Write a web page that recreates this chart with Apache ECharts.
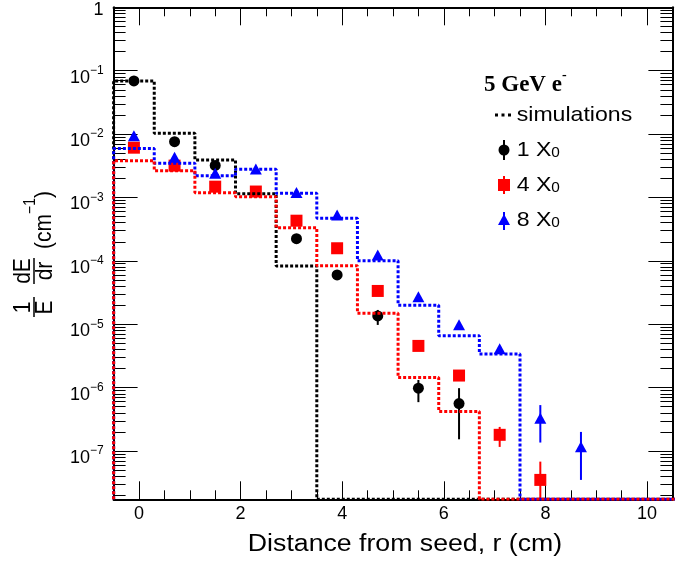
<!DOCTYPE html>
<html><head><meta charset="utf-8">
<script src="https://cdn.jsdelivr.net/npm/echarts@6/dist/echarts.min.js"></script>
<style>html,body{margin:0;padding:0;background:#fff}#c{width:678px;height:563px}</style>
</head><body><div id="c"></div>
<script>
// ---------------- data ----------------
const binEdges = [-0.5, 0.3, 1.1, 1.9, 2.7, 3.5, 4.3, 5.1, 5.9, 6.7, 7.5, 8.3, 9.1, 9.9, 10.7];
const simBlack = [0.069, 0.0103, 0.0039, 0.00114, 8.3e-5, 0, 0, 0, 0, 0, 0, 0, 0, 0];
const simRed   = [0.0038, 0.00265, 0.00119, 0.00103, 3.34e-4, 8.4e-5, 1.49e-5, 1.44e-6, 4.2e-7, 0, 0, 0, 0, 0];
const simBlue  = [0.0059, 0.00346, 0.0022, 0.00279, 0.00116, 4.7e-4, 1.0e-4, 2.0e-5, 6.6e-6, 3.4e-6, 0, 0, 0, 0];

const binCenters = [-0.1, 0.7, 1.5, 2.3, 3.1, 3.9, 4.7, 5.5, 6.3, 7.1, 7.9, 8.7];
const x1  = [0.0688, 0.0076, 0.0032, null, 2.24e-4, 6.0e-5, 1.35e-5, 9.8e-7, 5.6e-7, null, null, null];
const x1Lo = [null, null, null, null, null, null, 9.75e-6, 5.9e-7, 1.53e-7, null, null, null];
const x1Hi = [null, null, null, null, null, null, 1.68e-5, 1.32e-6, 9.8e-7, null, null, null];
const x4  = [0.0061, 0.00318, 0.00148, 0.00124, 4.3e-4, 1.58e-4, 3.35e-5, 4.55e-6, 1.55e-6, 1.8e-7, 3.5e-8, null];
const x4Lo = [null, null, null, null, null, null, null, null, null, 1.16e-7, 0, null];
const x4Hi = [null, null, null, null, null, null, null, null, null, 2.4e-7, 6.8e-8, null];
const x8  = [0.0094, 0.0043, 0.0024, 0.0028, 0.0012, 5.3e-4, 1.24e-4, 2.72e-5, 9.8e-6, 4.1e-6, 3.3e-7, 1.17e-7];
const x8Lo = [null, null, null, null, null, null, null, null, null, null, 1.36e-7, 3.5e-8];
const x8Hi = [null, null, null, null, null, null, null, null, null, null, 5.3e-7, 2.0e-7];

const xMajorTicks = [0, 2, 4, 6, 8, 10];
const xMinorTicks = [0.5, 1, 1.5, 2.5, 3, 3.5, 4.5, 5, 5.5, 6.5, 7, 7.5, 8.5, 9, 9.5];
const yDecades = [1e-7, 1e-6, 1e-5, 1e-4, 1e-3, 1e-2, 1e-1, 1];
const legendLabels = ['simulations', '1 X', '4 X', '8 X'];
const legendTitle = '5 GeV e';
const xTitle = 'Distance from seed, r (cm)';

// ---------------- setup ----------------
const YMIN = 1.73e-8, YMAX = 1;
const FONT = '"Liberation Sans", Arial, Helvetica, sans-serif';
const yMinor = [];
for (let e = -8; e <= -1; e++) for (let k = 2; k <= 9; k++) { const v = k * Math.pow(10, e); if (v > YMIN) yMinor.push(v); }

function stepPoints(vals) {
  const pts = [[binEdges[0], YMIN]];
  vals.forEach((v, i) => { const y = v > 0 ? v : YMIN; pts.push([binEdges[i], y]); pts.push([binEdges[i + 1], y]); });
  return pts;
}
function pts(arr) { return binCenters.map((x, i) => arr[i] == null ? null : [x, arr[i]]).filter(p => p); }
function errs(lo, hi) {
  return binCenters.map((x, i) => lo[i] == null ? null : [x, lo[i] > 0 ? lo[i] : YMIN, hi[i]]).filter(p => p);
}

function yLabelFmt(v) {
  const e = Math.round(Math.log10(v));
  if (e === 0) return '{o|1}';
  return '{m|10}{s|\u2212' + (-e) + '}';
}

function xAx(pos, line, ticks, len, labels) {
  return {
    type: 'value', position: pos, min: -0.5, max: 10.5,
    axisLine: { show: line, onZero: false, lineStyle: { color: '#000', width: 2 } },
    axisTick: { show: true, inside: true, length: len, customValues: ticks, lineStyle: { color: '#000', width: 1 } },
    axisLabel: labels ? { show: true, customValues: labels, margin: 6, color: '#000', fontFamily: FONT, fontSize: 18 } : { show: false },
    splitLine: { show: false }
  };
}
function yAx(pos, line, ticks, len, labels) {
  return {
    type: 'log', logBase: 10, position: pos, min: YMIN, max: YMAX,
    axisLine: { show: line, onZero: false, lineStyle: { color: '#000', width: 2 } },
    axisTick: { show: true, inside: true, length: len, customValues: ticks, lineStyle: { color: '#000', width: 1 } },
    axisLabel: labels ? {
      show: true, customValues: labels, margin: 10, color: '#000', formatter: yLabelFmt, padding: [6, 0, 0, 0],
      rich: {
        m: { fontFamily: FONT, fontSize: 18, lineHeight: 18, padding: [4, 0, 0, 0], verticalAlign: 'top', color: '#000' },
        s: { fontFamily: FONT, fontSize: 12, lineHeight: 12, verticalAlign: 'top', color: '#000' },
        o: { fontFamily: FONT, fontSize: 18, lineHeight: 18, padding: [0, 0, 4, 0], verticalAlign: 'top', color: '#000' }
      }
    } : { show: false },
    splitLine: { show: false }
  };
}

function stepSeries(vals, color, z) {
  return { type: 'line', xAxisIndex: 0, yAxisIndex: 0, data: stepPoints(vals), showSymbol: false, symbol: 'none',
    lineStyle: { color: color, width: 3, type: [3, 2] }, z: z, silent: true, animation: false };
}
function scatterSeries(arr, symbol, size, color) {
  return { type: 'scatter', xAxisIndex: 0, yAxisIndex: 0, data: pts(arr), symbol: symbol, symbolSize: size,
    itemStyle: { color: color, opacity: 1 }, z: 3, animation: false };
}
function errSeries(lo, hi, color) {
  return { type: 'custom', xAxisIndex: 0, yAxisIndex: 0, data: errs(lo, hi), encode: { x: 0, y: [1, 2] }, z: 3, animation: false,
    renderItem: (params, api) => {
      const a = api.coord([api.value(0), api.value(1)]);
      const b = api.coord([api.value(0), api.value(2)]);
      return { type: 'line', shape: { x1: a[0], y1: a[1], x2: b[0], y2: b[1] }, style: { stroke: color, lineWidth: 2 } };
    } };
}

// y-axis title (rotated)
const YT = 21, YS = 1.15;
const yTitle = {
  type: 'group', x: 34, y: 317, rotation: Math.PI / 2,
  children: [
    { type: 'line', shape: { x1: 0, y1: 0, x2: 20, y2: 0 }, style: { stroke: '#000', lineWidth: 1.5 } },
    { type: 'text', x: 9.5, y: -11, scaleY: YS, style: { text: '1', fontFamily: FONT, fontSize: YT, fill: '#000', align: 'center', verticalAlign: 'middle' } },
    { type: 'text', x: 9.5, y: 11.5, scaleY: YS, style: { text: 'E', fontFamily: FONT, fontSize: YT, fill: '#000', align: 'center', verticalAlign: 'middle' } },
    { type: 'line', shape: { x1: 33, y1: 0, x2: 59, y2: 0 }, style: { stroke: '#000', lineWidth: 1.5 } },
    { type: 'text', x: 46, y: -11, scaleY: YS, style: { text: 'dE', fontFamily: FONT, fontSize: YT, fill: '#000', align: 'center', verticalAlign: 'middle' } },
    { type: 'text', x: 46, y: 11.5, scaleY: YS, style: { text: 'dr', fontFamily: FONT, fontSize: YT, fill: '#000', align: 'center', verticalAlign: 'middle' } },
    { type: 'text', x: 68, y: 1, scaleY: YS, style: { text: '{m|(cm}{s|\u22121}{m|)}', align: 'left', verticalAlign: 'middle', fill: '#000',
      rich: { m: { fontFamily: FONT, fontSize: YT, lineHeight: YT, padding: [8, 0, 0, 0], verticalAlign: 'top' },
              s: { fontFamily: FONT, fontSize: 14, lineHeight: 14, verticalAlign: 'top' } } } }
  ]
};

// legend
const LX = 504, LT = 516.7, LS = 1.1;
const rowY = [115, 150, 185, 220];
const legendRich = { m: { fontFamily: FONT, fontSize: 21, lineHeight: 21, padding: [0, 0, 8, 0], verticalAlign: 'top' },
                     s: { fontFamily: FONT, fontSize: 14, lineHeight: 14, verticalAlign: 'bottom' } };
const legend = [
  { type: 'text', x: 484, y: 80, style: { text: '{b|' + legendTitle + '}{s|-}', align: 'left', verticalAlign: 'middle', fill: '#000',
    rich: { b: { fontFamily: '"Liberation Serif", "Times New Roman", serif', fontWeight: 'bold', fontSize: 23, lineHeight: 23, padding: [5, 0, 0, 0], verticalAlign: 'top' },
            s: { fontFamily: '"Liberation Serif", serif', fontWeight: 'bold', fontSize: 14, lineHeight: 14, verticalAlign: 'top' } } } },
  { type: 'line', shape: { x1: 495, y1: rowY[0], x2: 512, y2: rowY[0] }, style: { stroke: '#000', lineWidth: 3, lineDash: [3, 3.5] } },
  { type: 'text', x: LT, y: rowY[0], scaleX: LS, style: { text: legendLabels[0], fontFamily: FONT, fontSize: 21, fill: '#000', align: 'left', verticalAlign: 'middle' } },
  { type: 'line', shape: { x1: LX, y1: rowY[1] - 10, x2: LX, y2: rowY[1] + 10 }, style: { stroke: '#000', lineWidth: 2 } },
  { type: 'circle', shape: { cx: LX, cy: rowY[1], r: 5.5 }, style: { fill: '#000' } },
  { type: 'line', shape: { x1: LX, y1: rowY[2] - 9, x2: LX, y2: rowY[2] + 9 }, style: { stroke: '#ff0000', lineWidth: 2 } },
  { type: 'rect', shape: { x: LX - 6, y: rowY[2] - 6, width: 12, height: 12 }, style: { fill: '#ff0000' } },
  { type: 'line', shape: { x1: LX, y1: rowY[3] - 8, x2: LX, y2: rowY[3] + 10 }, style: { stroke: '#0000ff', lineWidth: 2 } },
  { type: 'polygon', shape: { points: [[LX, rowY[3] - 6], [LX + 6, rowY[3] + 5], [LX - 6, rowY[3] + 5]] }, style: { fill: '#0000ff' } }
];
for (let i = 1; i <= 3; i++) {
  legend.push({ type: 'text', x: LT, y: rowY[i] - 10.5, scaleX: LS, style: { text: '{m|' + legendLabels[i] + '}{s|0}', align: 'left', verticalAlign: 'top', fill: '#000', rich: legendRich } });
}

const xTitleEl = { type: 'text', x: 405, y: 545, scaleX: 1.16, style: { text: xTitle, fontFamily: FONT, fontSize: 23, fill: '#000', align: 'center', verticalAlign: 'middle' } };

const option = {
  animation: false,
  backgroundColor: '#fff',
  grid: { left: 113.6, top: 7.3, width: 558.8, height: 492, containLabel: false },
  xAxis: [
    xAx('bottom', true, xMajorTicks, 18, xMajorTicks),
    xAx('bottom', false, xMinorTicks, 9, null),
    xAx('top', true, xMajorTicks, 18, null),
    xAx('top', false, xMinorTicks, 9, null)
  ],
  yAxis: [
    yAx('left', true, yDecades, 24, yDecades),
    yAx('left', false, yMinor, 12, null),
    yAx('right', true, yDecades, 24, null),
    yAx('right', false, yMinor, 12, null)
  ],
  series: [
    errSeries(x1Lo, x1Hi, '#000'),
    scatterSeries(x1, 'circle', 11, '#000'),
    errSeries(x4Lo, x4Hi, '#ff0000'),
    scatterSeries(x4, 'rect', 12, '#ff0000'),
    errSeries(x8Lo, x8Hi, '#0000ff'),
    scatterSeries(x8, 'triangle', [12, 11], '#0000ff'),
    stepSeries(simBlack, '#000', 5),
    stepSeries(simBlue, '#0000ff', 6),
    stepSeries(simRed, '#ff0000', 7)
  ],
  graphic: [yTitle, xTitleEl].concat(legend)
};
const chart = echarts.init(document.getElementById('c'));
chart.setOption(option);
</script></body></html>
